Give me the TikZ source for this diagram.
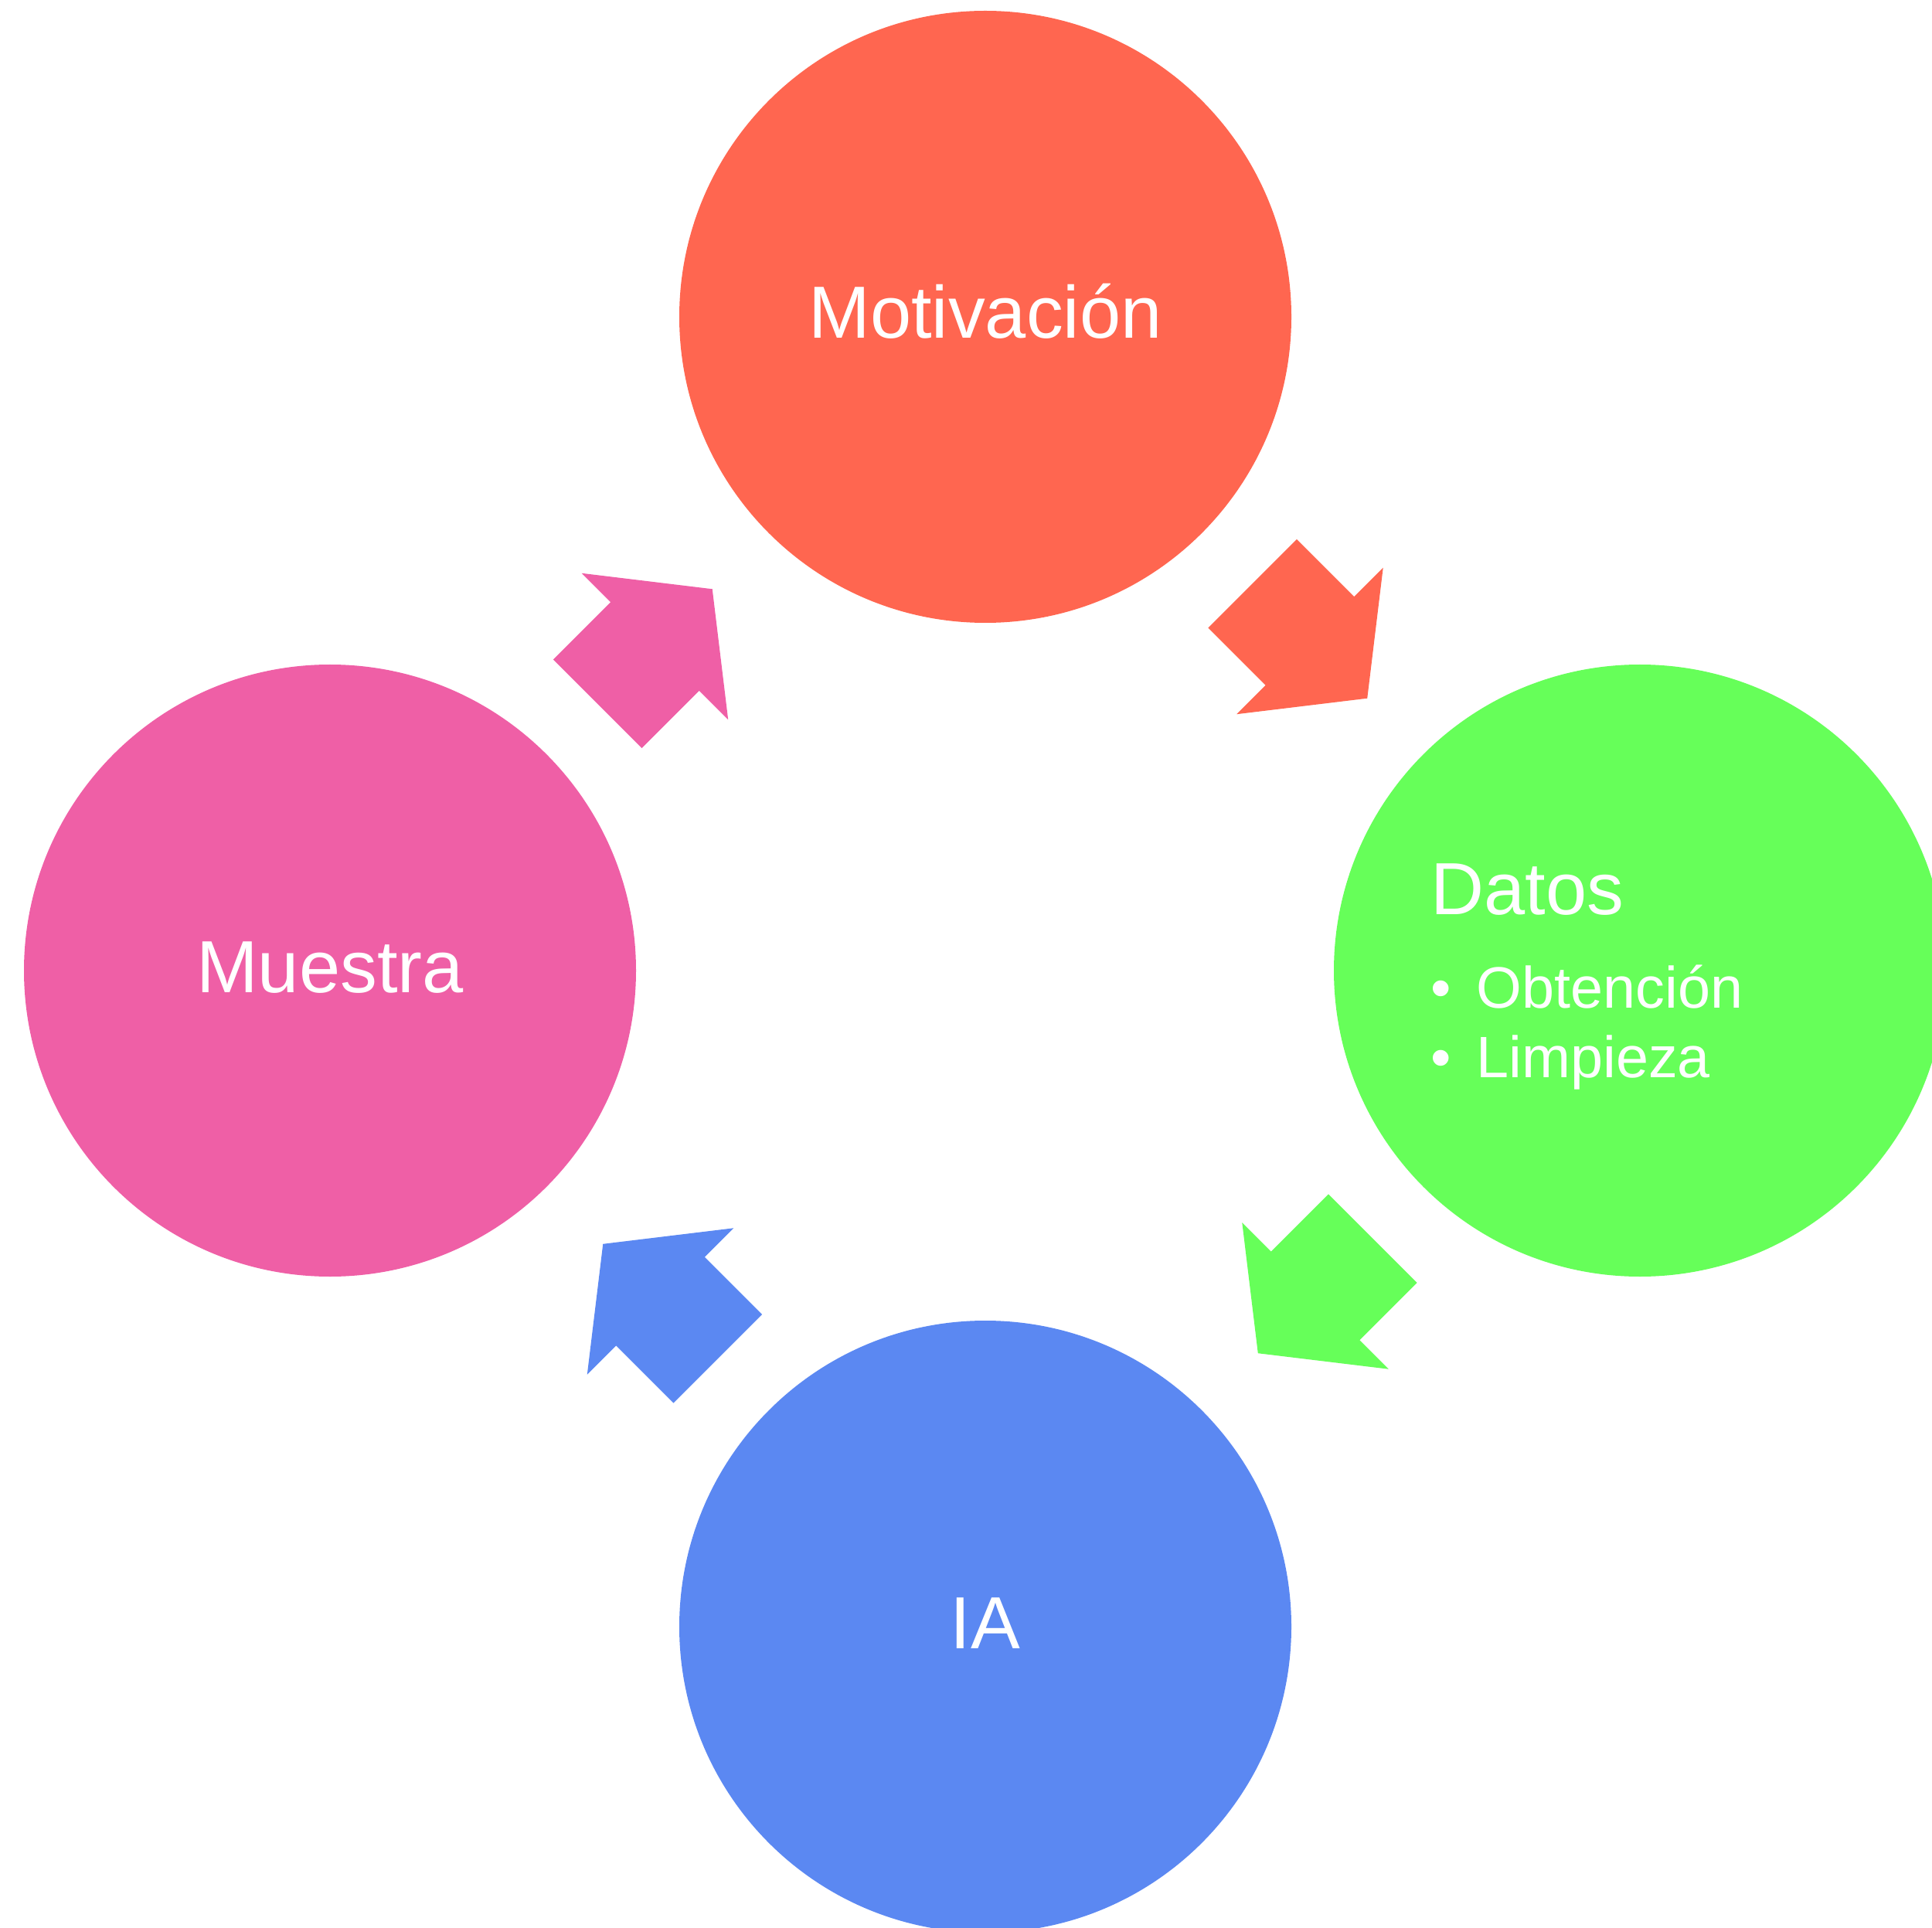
\documentclass[tikz,border=0pt]{standalone}
\usepackage{fontspec}
\setmainfont{Liberation Sans}
\usetikzlibrary{calc}
\definecolor{colMot}{HTML}{FF6650}
\definecolor{colDat}{HTML}{66FF59}
\definecolor{colIA}{HTML}{5B88F2}
\definecolor{colMue}{HTML}{EF5FA6}
\begin{document}
\begin{tikzpicture}[
        etapa/.style = {circle, minimum size = 7.92cm, inner sep = 0pt},
        titulo/.style = {text = white, inner sep = 0pt, anchor = base, font = \fontsize{27.2}{32}\selectfont},
        punto/.style = {text = white, inner sep = 0pt, anchor = base west, font = \fontsize{21.5}{26}\selectfont}
    ]
    \clip (0,0) rectangle (25,-24.95);
    \node[etapa, fill = colMot] (mot) at (12.75,-4.10) {};
    \node[etapa, fill = colDat] (dat) at (21.22,-12.56) {};
    \node[etapa, fill = colIA] (ia) at (12.75,-21.05) {};
    \node[etapa, fill = colMue] (mue) at (4.27,-12.56) {};
    \node[titulo] (motT) at ([yshift = -0.28cm]mot.center) {Motivación};
    \node[titulo] (iaT) at ([yshift = -0.28cm]ia.center) {IA};
    \node[titulo] (mueT) at ([yshift = -0.28cm]mue.center) {Muestra};
    \node[titulo, anchor = base west] (datT) at ([shift = {(-2.71,0.73)}]dat.center) {Datos};
    \node[punto] (datA) at ([shift = {(-2.71,-0.48)}]dat.center) {\makebox[0.59cm][l]{•}Obtención};
    \node[punto] (datB) at ([shift = {(-2.71,-1.38)}]dat.center) {\makebox[0.59cm][l]{•}Limpieza};
    % flechas entre etapas
    \foreach \a/\b/\ang/\col in {mot/dat/-45/colMot, dat/ia/-135/colDat, ia/mue/135/colIA, mue/mot/45/colMue} {
        \fill[\col, shift = {($(\a)!0.5!(\b)$)}, rotate = \ang] (-1.10,-0.81) -- (-0.05,-0.81) -- (-0.05,-1.34) -- (1.00,0) -- (-0.05,1.34) -- (-0.05,0.81) -- (-1.10,0.81) -- cycle;
    }
\end{tikzpicture}
\end{document}
